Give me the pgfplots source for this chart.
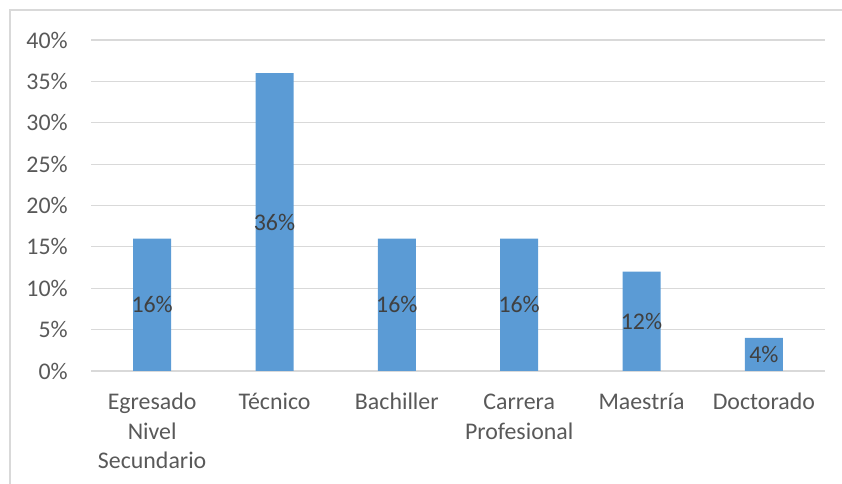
\documentclass[border=0pt]{standalone}
\usepackage{pgfplots}
\pgfplotsset{compat=1.18}
\usepackage{fontspec}
\setmainfont{Carlito}
\definecolor{barblue}{HTML}{5B9BD5}
\definecolor{gridgray}{HTML}{D9D9D9}
\definecolor{ticktext}{HTML}{595959}
\definecolor{labeltext}{HTML}{404040}
\begin{document}
\fontsize{17.9}{21.6}\selectfont
\begin{tikzpicture}
\path[use as bounding box] (-68.25pt,-84.75pt) rectangle (563.25pt,278.25pt);
\draw[gridgray, line width=0.9pt] (-60.75pt,-90pt) -- (-60.75pt,270.75pt) -- (570pt,270.75pt);
\begin{axis}[
  at={(0pt,0pt)}, anchor=south west,
  scale only axis, width=550.5pt, height=248.25pt,
  xmin=-0.5, xmax=5.5, ymin=0, ymax=40,
  ytick={0,5,...,40},
  yticklabel={\pgfmathprintnumber{\tick}\%},
  /pgf/number format/assume math mode=true,
  xtick={0,...,5},
  xticklabels={{\strut Egresado\\Nivel\\Secundario},\strut Técnico,\strut Bachiller,{\strut Carrera\\Profesional},\strut Maestría,\strut Doctorado},
  axis line style={draw=none},
  ymajorgrids, grid style={gridgray, line width=0.9pt},
  major tick length=0pt,
  tick label style={font=\fontsize{17.9}{22.4}\selectfont, color=ticktext},
  yticklabel style={inner sep=0pt, xshift=-17.25pt},
  xticklabel style={align=center, anchor=north, inner sep=0pt, yshift=-12.8pt},
  clip=false,
]
\addplot[ybar, bar width=28.5pt, fill=barblue, draw=none,
  visualization depends on={y \as \rawy},
  nodes near coords={\pgfmathprintnumber[assume math mode=true]{\pgfplotspointmeta}\%},
  every node near coord/.append style={anchor=center, inner sep=0pt,
    shift={(axis direction cs:0,-\rawy/2)},
    font=\fontsize{17.9}{21.6}\selectfont, color=labeltext},
] coordinates {(0,16) (1,36) (2,16) (3,16) (4,12) (5,4)};
\end{axis}
\end{tikzpicture}
\end{document}
